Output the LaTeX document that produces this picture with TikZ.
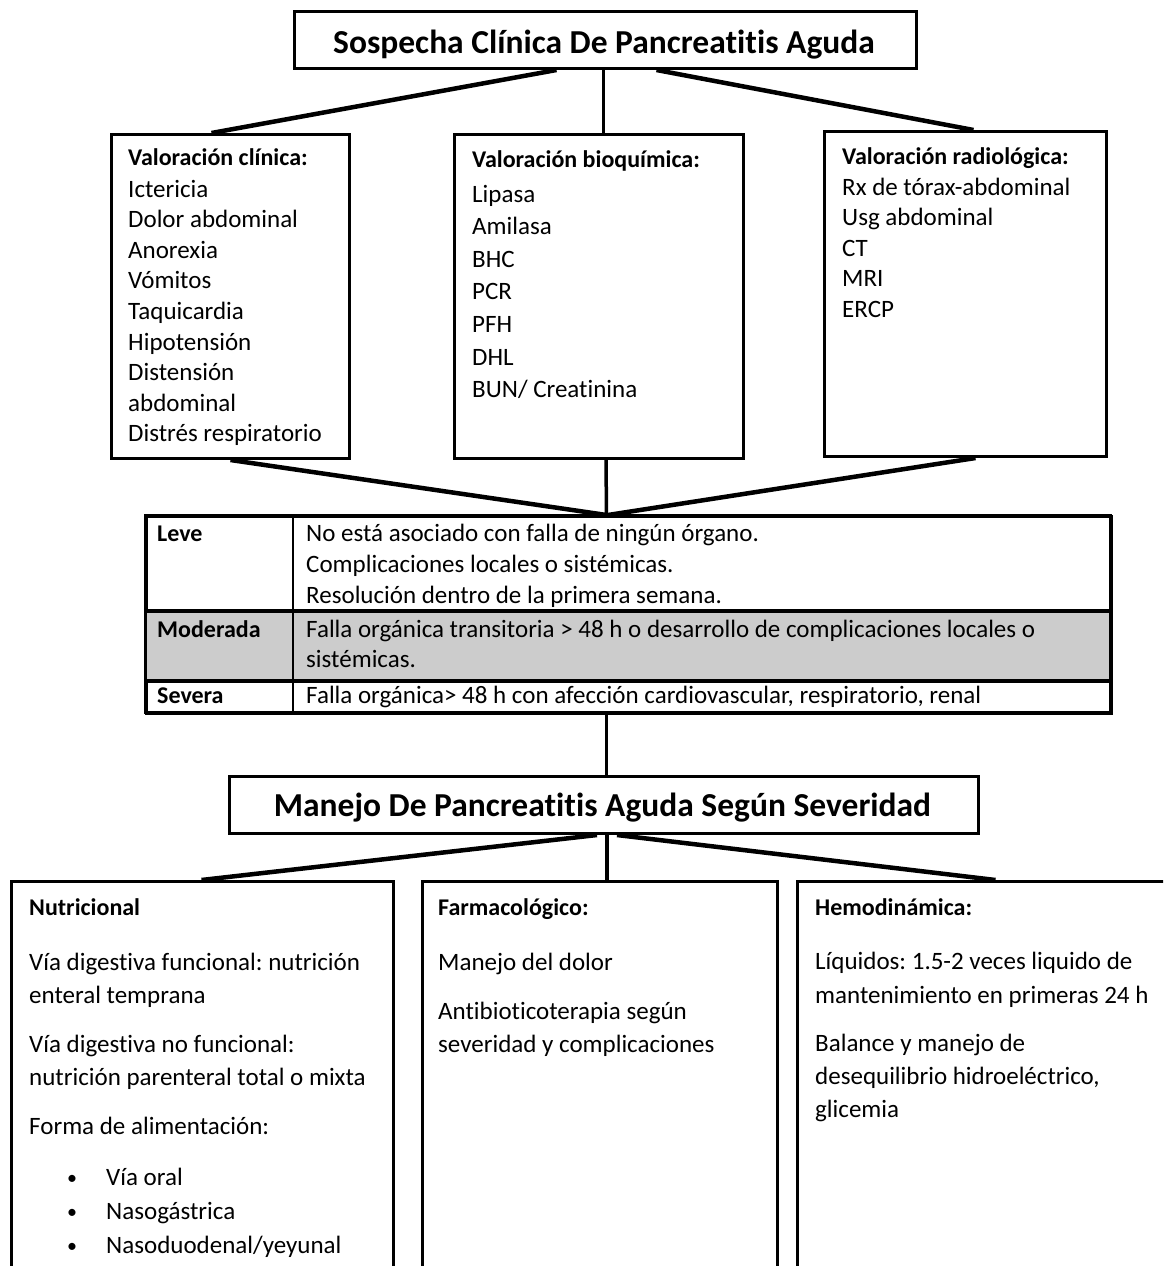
\documentclass[tikz,border=0pt]{standalone}
\usepackage{fontspec}
\setmainfont{Carlito}[Ligatures={TeX,NoCommon}]
\usetikzlibrary{calc}
\begin{document}
\frenchspacing
\begin{tikzpicture}[x=1pt,y=-1pt,
  box/.style={draw, line width=3pt, rectangle, inner sep=0pt, anchor=north west},
  conn/.style={line width=4.5pt},
  vconn/.style={line width=3.5pt},
  txt/.style={anchor=base west, inner sep=0pt, align=left, font=\fontsize{25}{30.6}\selectfont},
  hdr/.style={anchor=base west, inner sep=0pt, font=\fontsize{24}{30}\selectfont\bfseries},
  ttl/.style={anchor=base, inner sep=0pt, font=\fontsize{33.5}{40}\selectfont\bfseries}]
\newcommand{\mybul}{\makebox[39pt][l]{\raisebox{1pt}{\fontsize{20}{20}\selectfont•}}}
\path[use as bounding box] (0,0) rectangle (1163,1266);
\begin{scope}
\clip (0,0) rectangle (1163,1266);
% top title
\node[box, minimum width=622pt, minimum height=57pt] (top) at (293,10) {};
\node[ttl] (toptxt) at (604,53) {Sospecha Clínica De Pancreatitis Aguda};
% three assessment boxes
\node[box, minimum width=238pt, minimum height=324pt] (c1) at (110,133) {};
\node[box, minimum width=289pt, minimum height=324pt] (c2) at (453,133) {};
\node[box, minimum width=282pt, minimum height=325pt] (c3) at (823,130) {};
\draw[conn] ([xshift=-49pt]top.south) -- ([xshift=-19pt]c1.north);
\draw[vconn] ([xshift=-2pt]top.south) -- ([xshift=4.5pt]c2.north);
\draw[conn] ([xshift=51pt]top.south) -- ([xshift=8pt]c3.north);
\node[hdr] (h1) at (128,165) {Valoración clínica:};
\node[txt] (l1) at (128,441.8) {Ictericia\\Dolor abdominal\\Anorexia\\Vómitos\\Taquicardia\\Hipotensión\\Distensión\\abdominal\\Distrés respiratorio};
\node[hdr] (h2) at (472,167) {Valoración bioquímica:};
\node[txt, font=\fontsize{25}{32.6}\selectfont] (l2) at (472,397.6) {Lipasa\\Amilasa\\BHC\\PCR\\PFH\\DHL\\BUN/ Creatinina};
\node[hdr] (h3) at (842,164) {Valoración radiológica:};
\node[txt, font=\fontsize{25}{30.5}\selectfont] (l3) at (842,317) {Rx de tórax-abdominal\\Usg abdominal\\CT\\MRI\\ERCP};
% severity table
\node[box, minimum width=965pt, minimum height=197pt] (tab) at (145,515) {};
\fill[gray!40] (145,611) rectangle (1110,681);
\draw[line width=3pt] (145,515) rectangle (1110,712);
\draw[line width=4pt] (145,611) -- (1110,611);
\draw[line width=4pt] (145,681) -- (1110,681);
\draw[line width=2.5pt] (293,515) -- (293,712);
\draw[conn] (c1.south) -- ([xshift=-22.5pt]tab.north);
\draw[vconn] ([xshift=7pt]c2.south) -- ([xshift=-22.5pt]tab.north);
\draw[conn] ([xshift=10pt]c3.south) -- ([xshift=-21pt]tab.north);
\node[hdr] (leve) at (157,541) {Leve};
\node[txt, font=\fontsize{25}{31}\selectfont] (levet) at (306,603) {No está asociado con falla de ningún órgano.\\Complicaciones locales o sistémicas.\\Resolución dentro de la primera semana.};
\node[hdr] (mod) at (157,637) {Moderada};
\node[txt, font=\fontsize{25}{30}\selectfont] (modt) at (306,667) {Falla orgánica transitoria > 48 h o desarrollo de complicaciones locales o\\sistémicas.};
\node[hdr] (sev) at (157,703) {Severa};
\node[txt] (sevt) at (306,703) {Falla orgánica> 48 h con afección cardiovascular, respiratorio, renal};
% second title
\node[box, minimum width=749pt, minimum height=57pt] (man) at (228,775) {};
\node[ttl] (mantxt) at (602.5,816) {Manejo De Pancreatitis Aguda Según Severidad};
\draw[vconn] ([xshift=-22.5pt]tab.south) -- ([xshift=2.5pt]man.north);
% management boxes
\node[box, minimum width=382pt, minimum height=420pt] (ba) at (10,880) {};
\node[box, minimum width=355pt, minimum height=420pt] (bb) at (421,880) {};
\node[box, minimum width=380pt, minimum height=420pt] (bc) at (796,880) {};
\draw[conn] ([xshift=-7pt]man.south) -- ([xshift=-1pt]ba.north);
\draw[vconn] ([xshift=3pt]man.south) -- ([xshift=7pt]bb.north);
\draw[conn] ([xshift=13pt]man.south) -- ([xshift=8pt]bc.north);
\node[hdr] (ha) at (29,915) {Nutricional};
\node[txt, font=\fontsize{25}{33}\selectfont] (a1) at (29,1003) {Vía digestiva funcional: nutrición\\enteral temprana};
\node[txt, font=\fontsize{25}{33}\selectfont] (a2) at (29,1085) {Vía digestiva no funcional:\\nutrición parenteral total o mixta};
\node[txt] (a3) at (29,1134) {Forma de alimentación:};
\node[txt, font=\fontsize{25}{34}\selectfont] (a4) at (67,1253) {\mybul Vía oral\\\mybul Nasogástrica\\\mybul Nasoduodenal/yeyunal};
\node[hdr] (hb) at (438,915) {Farmacológico:};
\node[txt] (b1) at (438,970) {Manejo del dolor};
\node[txt, font=\fontsize{25}{33}\selectfont] (b2) at (438,1052) {Antibioticoterapia según\\severidad y complicaciones};
\node[hdr] (hc) at (815,915) {Hemodinámica:};
\node[txt, font=\fontsize{25}{34}\selectfont] (c1t) at (815,1003) {Líquidos: 1.5-2 veces liquido de\\mantenimiento en primeras 24 h};
\node[txt, font=\fontsize{25}{33}\selectfont] (c2t) at (815,1117) {Balance y manejo de\\desequilibrio hidroeléctrico,\\glicemia};
\end{scope}
\end{tikzpicture}
\end{document}
